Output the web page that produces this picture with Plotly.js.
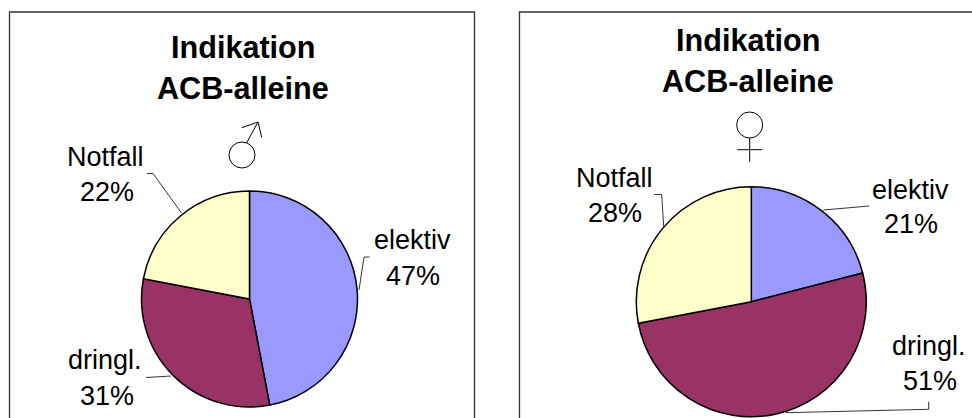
<!DOCTYPE html>
<html>
<head>
<meta charset="utf-8">
<title>Indikation ACB-alleine</title>
<script src="https://cdn.plot.ly/plotly-3.0.1.min.js"></script>
<style>html,body{margin:0;padding:0;background:#fff;overflow:hidden}</style>
</head>
<body>
<div id="chart" style="width:972px;height:418px"></div>
<script>
const W = 972, H = 418;
const categories = ['elektiv', 'dringl.', 'Notfall'];
const valuesMale = [47, 31, 22];
const valuesFemale = [21, 51, 28];
const sliceColors = ['#9999FF', '#993366', '#FFFFCC'];
const titleLines = ['Indikation', 'ACB-alleine'];

// Pixel-to-paper helpers: the layout is fixed-size with zero margins.
const px = x => x / W;
const py = y => 1 - y / H;

const fontFace = 'Liberation Sans, Arial, sans-serif';
const LABEL_SIZE = 27, TITLE_SIZE = 30.6;

function pie(values, cx, cy, r) {
  return {
    type: 'pie', values, labels: categories, sort: false, direction: 'clockwise', rotation: 0,
    marker: {colors: sliceColors, line: {color: '#000', width: 1.5}},
    textinfo: 'none', hoverinfo: 'skip', showlegend: false,
    domain: {x: [px(cx - r), px(cx + r)], y: [py(cy + r), py(cy - r)]}
  };
}

// Text placed by horizontal centre and baseline.
function text(str, cx, baseline, size, bold) {
  const lift = (bold ? 0.3465 : 0.31) * size;
  return {
    text: bold ? '<b>' + str + '</b>' : str,
    xref: 'paper', yref: 'paper', x: px(cx), y: py(baseline - lift),
    xanchor: 'center', yanchor: 'middle', showarrow: false, borderpad: 0,
    font: {family: fontFace, size, color: '#000'}
  };
}

function polyline(points, color, width) {
  const d = points.map((p, i) => (i ? 'L' : 'M') + px(p[0]) + ',' + py(p[1])).join(' ');
  return {type: 'path', xref: 'paper', yref: 'paper', path: d, line: {color, width}};
}

function ring(cx, cy, r) {
  return {type: 'circle', xref: 'paper', yref: 'paper',
    x0: px(cx - r), x1: px(cx + r), y0: py(cy + r), y1: py(cy - r),
    line: {color: '#000', width: 1}, fillcolor: 'rgba(0,0,0,0)'};
}

const leader = pts => polyline(pts, '#000', 0.8);
const symbol = pts => polyline(pts, '#000', 1);

const shapes = [
  // Panel frames, open at the lower edge of the page
  polyline([[9.5, 418], [9.5, 12], [474.5, 12], [474.5, 418]], '#333', 1.3),
  polyline([[519.5, 418], [519.5, 12], [972, 12]], '#333', 1.3),
  // Leader lines, male panel
  leader([[147, 173.5], [153, 173.5], [181.5, 213]]),
  leader([[369.5, 257], [364, 257], [359, 290]]),
  leader([[146, 377.5], [171, 376]]),
  // Leader lines, female panel
  leader([[654.3, 194.5], [661.7, 194.5], [663.7, 226.7]]),
  leader([[869.3, 206], [823.3, 210]]),
  leader([[928.7, 401.7], [928.7, 409.3], [786, 412.7]]),
  // Mars symbol
  ring(242, 155, 13),
  symbol([[246.5, 143], [258, 122]]),
  symbol([[241.7, 127.7], [258, 122], [261.7, 137.3]]),
  // Venus symbol
  ring(749.7, 125, 13),
  symbol([[749.7, 138], [749.7, 161.7]]),
  symbol([[737.3, 149.7], [762.3, 149.7]])
];

const annotations = [
  text(titleLines[0], 243.5, 58, TITLE_SIZE, true),
  text(titleLines[1], 243.5, 99, TITLE_SIZE, true),
  text(titleLines[0], 748, 51, TITLE_SIZE, true),
  text(titleLines[1], 748.3, 91.7, TITLE_SIZE, true),

  text(categories[2], 105.7, 165, LABEL_SIZE),
  text(valuesMale[2] + '%', 106.7, 200, LABEL_SIZE),
  text(categories[0], 412, 248, LABEL_SIZE),
  text(valuesMale[0] + '%', 412.7, 284, LABEL_SIZE),
  text(categories[1], 105, 368, LABEL_SIZE),
  text(valuesMale[1] + '%', 106.7, 404, LABEL_SIZE),

  text(categories[2], 614.3, 186.7, LABEL_SIZE),
  text(valuesFemale[2] + '%', 615.3, 221.7, LABEL_SIZE),
  text(categories[0], 910.7, 198, LABEL_SIZE),
  text(valuesFemale[0] + '%', 911, 232.7, LABEL_SIZE),
  text(categories[1], 928.7, 354, LABEL_SIZE),
  text(valuesFemale[1] + '%', 930.3, 389, LABEL_SIZE)
];

Plotly.newPlot('chart',
  [pie(valuesMale, 249.5, 299, 108), pie(valuesFemale, 751.3, 301.7, 115)],
  {width: W, height: H, margin: {l: 0, r: 0, t: 0, b: 0},
   paper_bgcolor: '#fff', plot_bgcolor: '#fff', shapes, annotations},
  {displayModeBar: false, staticPlot: true});
</script>
</body>
</html>
